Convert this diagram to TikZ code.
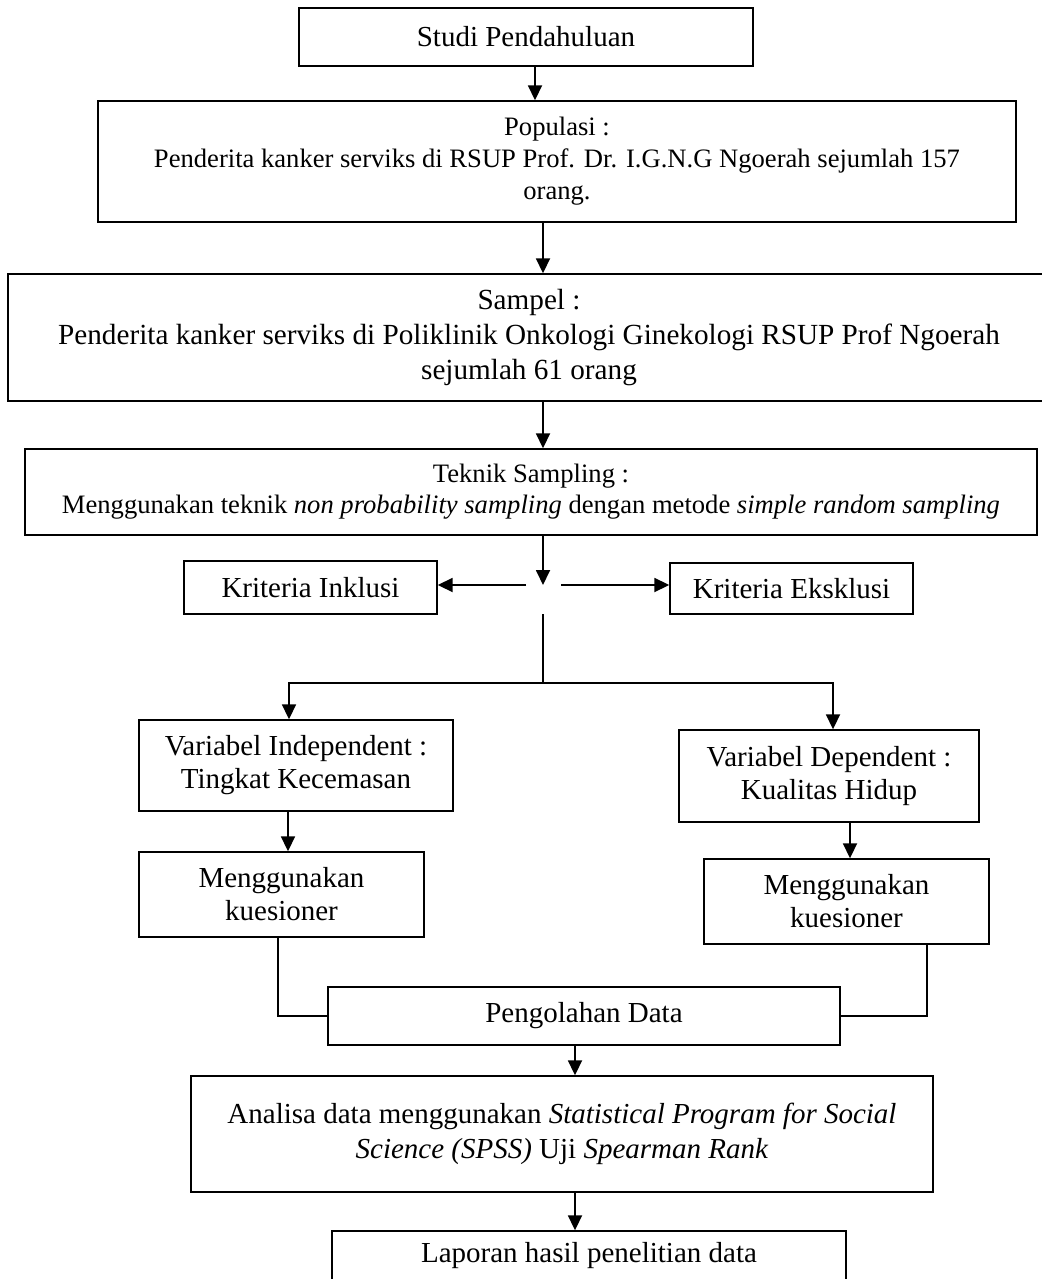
\documentclass[tikz,border=0pt]{standalone}
\usepackage{fontspec}
\setmainfont{Liberation Serif}
\usetikzlibrary{arrows.meta}
\begin{document}
\begin{tikzpicture}[x=0.5pt,y=-0.5pt,
  box/.style={draw=black,line width=0.7pt,align=center,inner sep=0pt,
    font=\fontsize{14.5pt}{16.5pt}\selectfont},
  arr/.style={line width=0.9pt,-{Triangle[length=7.5pt,width=7pt]}},
  ln/.style={line width=0.9pt}]
\useasboundingbox (0,0) rectangle (1041,1279);
% boxes
\node[box,minimum width=227pt,minimum height=29pt] (studi) at (526,37) {Studi Pendahuluan};
\node[box,minimum width=459pt,minimum height=60.5pt,font=\fontsize{13.3pt}{16pt}\selectfont] (pop) at (557,161.5)
  {Populasi :\\Penderita kanker serviks di RSUP Prof. Dr. I.G.N.G Ngoerah sejumlah 157\\orang.};
\node[box,minimum width=521pt,minimum height=63.5pt,font=\fontsize{14.6pt}{17.5pt}\selectfont] (sampel) at (529,337.5)
  {Sampel :\\Penderita kanker serviks di Poliklinik Onkologi Ginekologi RSUP Prof Ngoerah\\sejumlah 61 orang};
\node[box,minimum width=506pt,minimum height=43pt,font=\fontsize{13.3pt}{15.5pt}\selectfont] (teknik) at (531,492)
  {Teknik Sampling :\\Menggunakan teknik \textit{non probability sampling} dengan metode \textit{simple random sampling}};
\node[box,minimum width=126.5pt,minimum height=26.5pt] (inkl) at (310.5,587.5) {Kriteria Inklusi};
\node[box,minimum width=121.5pt,minimum height=25.5pt] (eksk) at (791.5,588.5) {Kriteria Eksklusi};
\node[box,minimum width=157pt,minimum height=45.5pt] (vind) at (296,765.5) {Variabel Independent :\\Tingkat Kecemasan};
\node[box,minimum width=142.5pt,minimum height=42.5pt] (ml) at (281.5,894.5) {Menggunakan\\kuesioner};
\node[box,minimum width=150pt,minimum height=46pt] (vdep) at (829,776) {Variabel Dependent :\\Kualitas Hidup};
\node[box,minimum width=142.5pt,minimum height=42.5pt] (mr) at (846.5,901.5) {Menggunakan\\kuesioner};
\node[box,minimum width=256pt,minimum height=29pt] (peng) at (584,1016) {Pengolahan Data};
\node[box,minimum width=371pt,minimum height=58pt,font=\fontsize{14.5pt}{17.5pt}\selectfont] (anal) at (562,1134)
  {Analisa data menggunakan \textit{Statistical Program for Social}\\\textit{Science (SPSS)} Uji \textit{Spearman Rank}};
\node[box,minimum width=257pt,minimum height=25pt] (lap) at (589,1256) {Laporan hasil penelitian data};
% coordinates
\coordinate (xa) at (535,0);
\coordinate (xb) at (543,0);
\coordinate (j) at (543,585);
\coordinate (jl) at (526,585);
\coordinate (jr) at (561,585);
\coordinate (j2) at (543,614);
\coordinate (j3) at (543,683);
\coordinate (hl) at (289,683);
\coordinate (hr) at (833,683);
\coordinate (xl) at (288,0);
\coordinate (xr) at (850,0);
\coordinate (xml) at (278,0);
\coordinate (xmr) at (927,0);
\coordinate (xp) at (575,0);
% connectors
\draw[arr] (studi.south -| xa) -- (pop.north -| xa);
\draw[arr] (pop.south -| xb) -- (sampel.north -| xb);
\draw[arr] (sampel.south -| xb) -- (teknik.north -| xb);
\draw[arr] (teknik.south -| xb) -- (j);
\draw[arr] (jl) -- (jl -| inkl.east);
\draw[arr] (jr) -- (jr -| eksk.west);
\draw[ln] (j2) -- (j3);
\draw[arr] (j3) -| (vind.north -| hl);
\draw[arr] (j3) -| (vdep.north -| hr);
\draw[arr] (vind.south -| xl) -- (ml.north -| xl);
\draw[arr] (vdep.south -| xr) -- (mr.north -| xr);
\draw[ln] (ml.south -| xml) |- (peng.west);
\draw[ln] (mr.south -| xmr) |- (peng.east);
\draw[arr] (peng.south -| xp) -- (anal.north -| xp);
\draw[arr] (anal.south -| xp) -- (lap.north -| xp);
\end{tikzpicture}
\end{document}
